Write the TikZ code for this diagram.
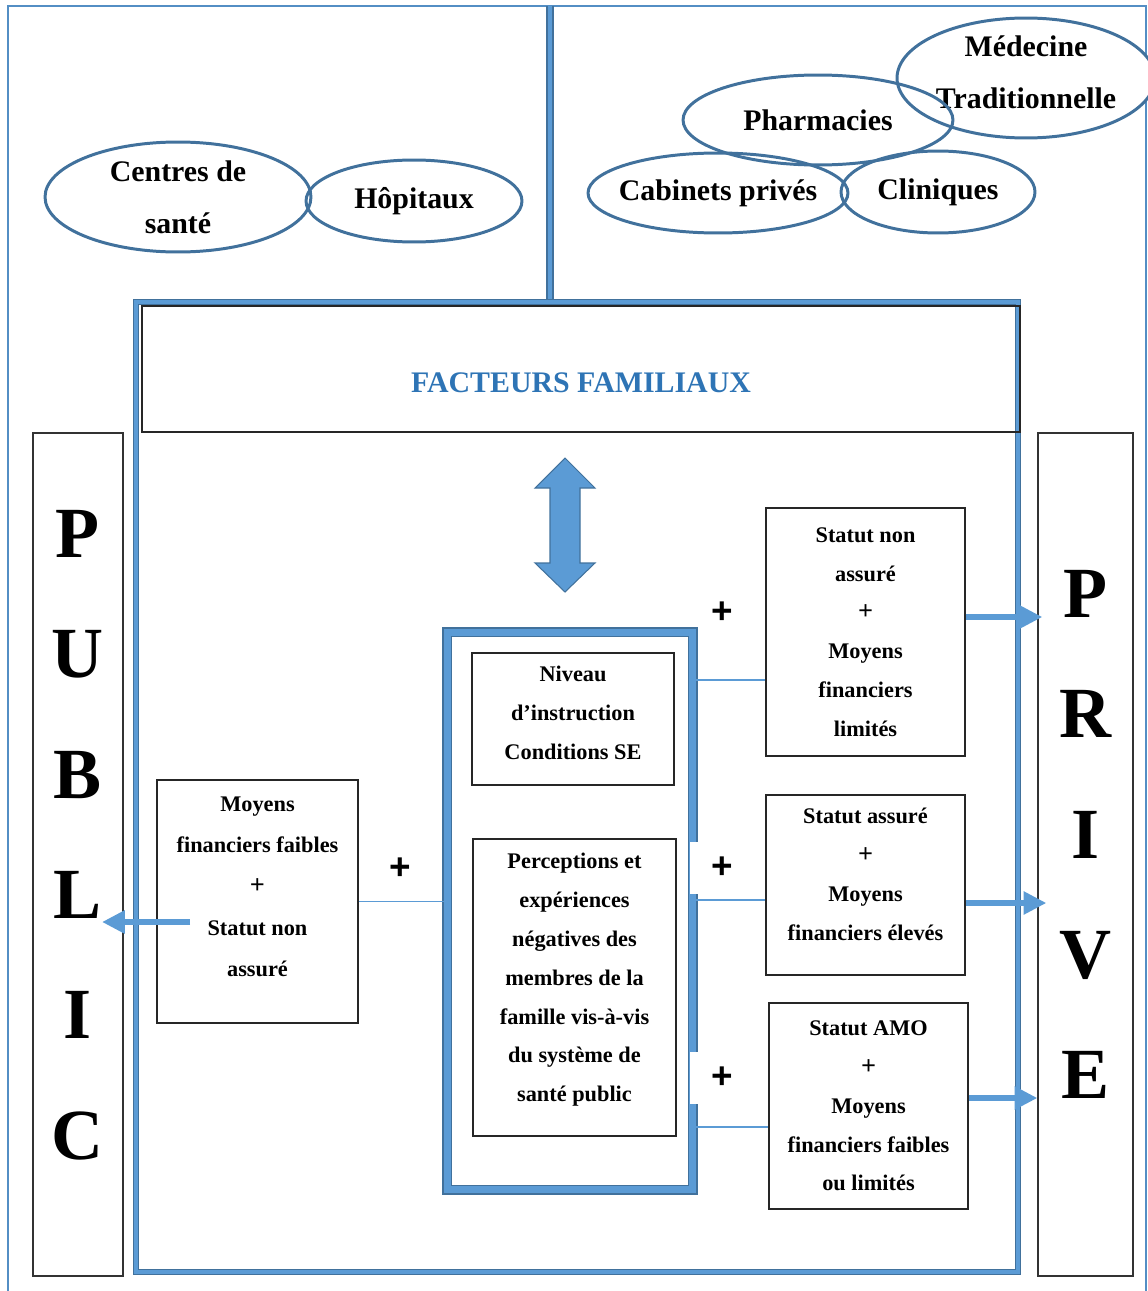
\documentclass[tikz,border=0pt]{standalone}
\usepackage{fontspec}
\setmainfont{Liberation Serif}
\newfontfamily\plusfont{Liberation Sans}
\usetikzlibrary{arrows.meta, shapes.geometric}
\definecolor{lblue}{RGB}{91,155,213}
\definecolor{dblue}{RGB}{65,113,156}
\definecolor{tblue}{RGB}{46,116,181}
\newcommand{\bplus}{{\fontsize{15}{15}\selectfont+}}

\begin{document}
\begin{tikzpicture}[x=0.02cm, y=-0.02cm,
  every node/.style={font=\bfseries\fontsize{12.7}{22.1}\selectfont, align=center, inner sep=0pt},
  box/.style={draw=black!85, line width=0.7pt},
  oval/.style={ellipse, draw=dblue, line width=1.7pt, inner sep=-10pt, font=\bfseries\fontsize{17}{29.5}\selectfont},
  col/.style={draw=black!80, line width=0.7pt, minimum height=16.86cm},
  letters/.style={anchor=north, font=\bfseries\fontsize{41}{68.5}\selectfont},
  plus/.style={font=\plusfont\bfseries\fontsize{21}{21}\selectfont},
  bframe/.style={draw=dblue, double=lblue, line width=0.6pt},
  link/.style={lblue, line width=0.8pt},
  fat/.style={lblue, line width=3.8pt, -{Triangle[length=13pt, width=12.5pt]}}]
  \useasboundingbox (0,0) rectangle (1148,1291);

  % page frame, public / private split
  \draw[lblue!70!dblue, line width=1.5pt] (8,1291) -- (8,6) -- (1146,6) -- (1146,1291);
  \draw[bframe, double distance=2.8pt] (550,6) -- (550,302);
  \draw[bframe, double distance=2.4pt] (136,302) rectangle (1018,1272);

  \node[box, minimum width=17.56cm, text height=1.74cm, text depth=0.78cm, text=tblue,
        font=\bfseries\fontsize{17}{20}\selectfont] (fam) at (581,369) {FACTEURS FAMILIAUX};

  % side columns
  \node[col, minimum width=1.8cm] (pub) at (78,854.5) {};
  \node[letters] at (pub.north |- 0,510) {P\\U\\B\\L\\I\\C};
  \node[col, minimum width=1.9cm] (pri) at (1085.5,854.5) {};
  \node[letters] at (pri.north |- 0,570) {P\\R\\I\\V\\E};

  % health services
  \node[oval, fill=white, minimum width=5.16cm, minimum height=2.4cm, text depth=0.24cm] (med) at (1026,78) {Médecine\\Traditionnelle};
  \node[oval, minimum width=5.4cm, minimum height=1.8cm] (pha) at (818,120) {Pharmacies};
  \node[oval, minimum width=5.2cm, minimum height=1.6cm] (cab) at (718,193) {Cabinets privés};
  \node[oval, minimum width=3.88cm, minimum height=1.64cm] (cli) at (938,192) {Cliniques};
  \node[oval, minimum width=5.32cm, minimum height=2.2cm] (cds) at (178,197) {Centres de\\santé};
  \node[oval, minimum width=4.32cm, minimum height=1.64cm] (hop) at (414,201) {Hôpitaux};

  % two-way arrow
  \draw[dblue, fill=lblue, line width=0.6pt] (565,458) -- (595,488) -- (580,488) -- (580,563) -- (595,563)
    -- (565,592) -- (535,563) -- (550,563) -- (550,488) -- (535,488) -- cycle;

  % family factors
  \node[bframe, double distance=4pt, minimum width=4.92cm, minimum height=11.16cm] (cen) at (570,911) {};
  \node[box, minimum width=4.04cm, minimum height=2.64cm, text depth=0.24cm] (niv) at (573,719) {Niveau\\d’instruction\\Conditions SE};
  \node[box, minimum width=4.06cm, minimum height=5.94cm, text depth=0.4cm] (per) at (574.5,987.5)
    {Perceptions et\\expériences\\négatives des\\membres de la\\famille vis-à-vis\\du système de\\santé public};

  \node[box, minimum width=4.02cm, minimum height=4.86cm, text depth=0.6cm, font=\bfseries\fontsize{12.7}{23.5}\selectfont] (lft) at (257.5,901.5)
    {Moyens\\financiers faibles\\\bplus\\Statut non\\assuré};
  \node[box, minimum width=3.98cm, minimum height=4.96cm] (r1) at (865.5,632) {Statut non\\assuré\\\bplus\\Moyens\\financiers\\limités};
  \node[box, minimum width=3.98cm, minimum height=3.6cm, text depth=0.44cm] (r2) at (865.5,885) {Statut assuré\\\bplus\\Moyens\\financiers élevés};
  \node[box, minimum width=3.98cm, minimum height=4.12cm] (r3) at (868.5,1106) {Statut AMO\\\bplus\\Moyens\\financiers faibles\\ou limités};

  % links
  \draw[link] (lft.east) -- (lft.east -| cen.west);
  \draw[link] (cen.east |- 0,680) -- (r1.west |- 0,680);
  \draw[link] (cen.east |- 0,900) -- (r2.west |- 0,900);
  \draw[link] (cen.east |- 0,1127) -- (r3.west |- 0,1127);

  \node[plus] (p0) at (400,869) {+};
  \node[plus] (p1) at (722,613) {+};
  \node[plus, fill=white, minimum width=1.28cm, minimum height=1.04cm] (p2) at (722,868) {+};
  \node[plus, fill=white, minimum width=1.28cm, minimum height=1.04cm] (p3) at (722,1078) {+};

  % orientation arrows
  \coordinate (ltail) at (190,922);
  \coordinate (lhead) at (102,922);
  \draw[fat] (ltail) -- (lhead);
  \draw[fat] (r1.east |- 0,617) -- ([xshift=0.1cm]pri.west |- 0,617);
  \draw[fat] (r2.east |- 0,903) -- ([xshift=0.18cm]pri.west |- 0,903);
  \draw[fat] (r3.east |- 0,1098) -- (pri.west |- 0,1098);
\end{tikzpicture}
\end{document}
